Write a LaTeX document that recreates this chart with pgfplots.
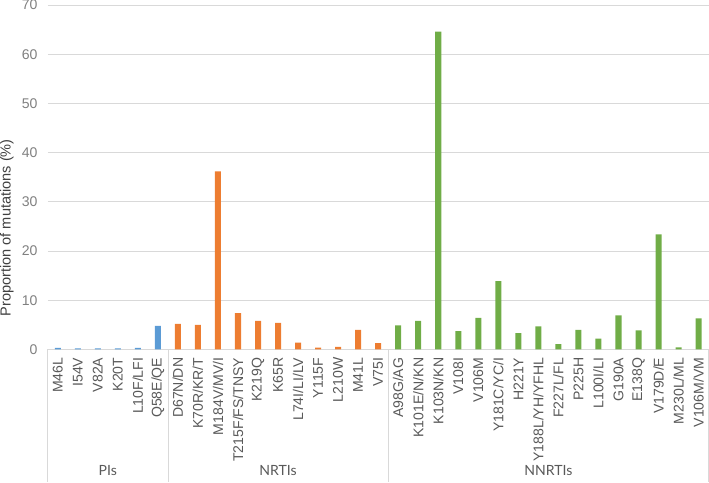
\documentclass[border=0pt]{standalone}
\usepackage{pgfplots}
\pgfplotsset{compat=1.18}
\usepackage{fontspec}
\setmainfont{Liberation Sans}
\newfontfamily\latofont{Lato}
\definecolor{piblue}{RGB}{91,155,213}
\definecolor{nrtiorange}{RGB}{237,125,49}
\definecolor{nnrtigreen}{RGB}{112,173,71}
\definecolor{txtgrey}{RGB}{89,89,89}
\definecolor{ticgrey}{RGB}{128,128,128}
\definecolor{labgrey}{RGB}{64,64,64}
\definecolor{gridgrey}{RGB}{217,217,217}
\begin{document}
\begin{tikzpicture}
\begin{axis}[
  scale only axis,
  width=658pt, height=343pt,
  ymin=0, ymax=70, ytick={0,10,...,70},
  xmin=-0.5, xmax=32.5,
  xtick={0,...,32},
  xticklabels={M46L,I54V,V82A,K20T,L10F/LFI,Q58E/QE,D67N/DN,K70R/KR/T,M184V/MV/I,T215F/FS/TNSY,K219Q,K65R,L74I/LI/LV,Y115F,L210W,M41L,V75I,A98G/AG,K101E/N/KN,K103N/KN,V108I,V106M,Y181C/YC/I,H221Y,Y188L/YH/YFHL,F227L/FL,P225H,L100I/LI,G190A,E138Q,V179D/E,M230L/ML,V106M/VM},
  x tick label style={rotate=90, anchor=east, font=\fontsize{14}{16}\selectfont, text=txtgrey, inner sep=0pt},
  xticklabel shift=8pt,
  y tick label style={font=\fontsize{14}{16}\selectfont, text=ticgrey, inner sep=0pt},
  yticklabel shift=10pt,
  /pgf/number format/assume math mode=true,
  ymajorgrids, grid style={gridgrey, line width=0.8pt},
  major tick length=0pt,
  axis line style={draw=none},
  ylabel={Proportion of mutations (\%)},
  ylabel style={font=\fontsize{14.5}{16}\selectfont, text=labgrey, at={(axis description cs:-0.062,0.353)}, anchor=center, inner sep=0pt},
  ybar, bar width=6pt, bar shift=0pt,
  clip=false,
]
\addplot[fill=piblue, draw=none] coordinates {(0,0.3) (1,0.2) (2,0.2) (3,0.2) (4,0.3) (5,4.8)};
\addplot[fill=nrtiorange, draw=none] coordinates {(6,5.2) (7,5.0) (8,36.2) (9,7.4) (10,5.8) (11,5.4) (12,1.4) (13,0.35) (14,0.5) (15,4.0) (16,1.3)};
\addplot[fill=nnrtigreen, draw=none] coordinates {(17,4.9) (18,5.8) (19,64.6) (20,3.7) (21,6.4) (22,13.9) (23,3.3) (24,4.7) (25,1.1) (26,4.0) (27,2.2) (28,6.9) (29,3.9) (30,23.4) (31,0.4) (32,6.3)};
\draw[gridgrey, line width=0.8pt] (axis cs:-0.5,0) -- ([yshift=-132pt]axis cs:-0.5,0);
\draw[gridgrey, line width=0.8pt] (axis cs:5.5,0) -- ([yshift=-132pt]axis cs:5.5,0);
\draw[gridgrey, line width=0.8pt] (axis cs:16.5,0) -- ([yshift=-132pt]axis cs:16.5,0);
\draw[gridgrey, line width=0.8pt] (axis cs:32.5,0) -- ([yshift=-132pt]axis cs:32.5,0);
\node[font=\latofont\fontsize{14}{16}\selectfont, text=txtgrey] at ([yshift=-121pt]axis cs:2.5,0) {PIs};
\node[font=\latofont\fontsize{14}{16}\selectfont, text=txtgrey] at ([yshift=-121pt]axis cs:11,0) {NRTIs};
\node[font=\latofont\fontsize{14}{16}\selectfont, text=txtgrey] at ([yshift=-121pt]axis cs:24.5,0) {NNRTIs};
\end{axis}
\end{tikzpicture}
\end{document}
